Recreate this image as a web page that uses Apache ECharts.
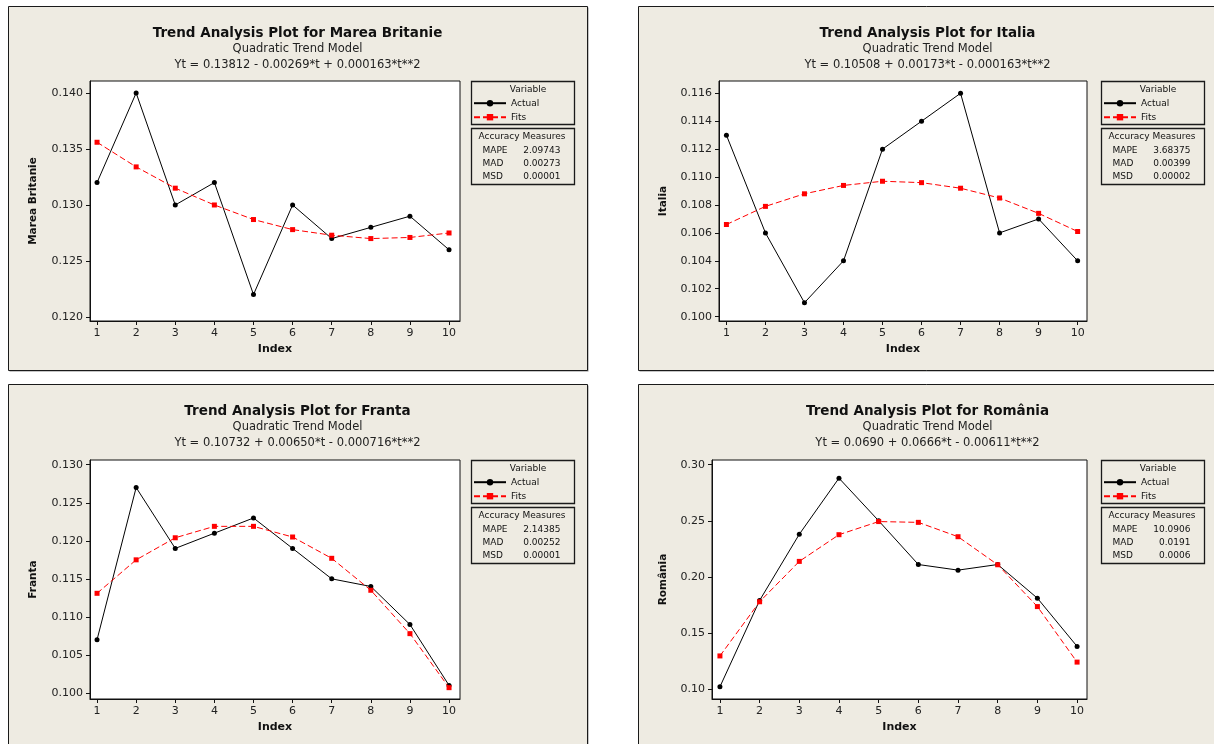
<!DOCTYPE html>
<html>
<head>
<meta charset="utf-8">
<script src="https://cdn.jsdelivr.net/npm/echarts@6/dist/echarts.min.js"></script>
<style>
html,body{margin:0;padding:0;background:#fff;}
#chart{width:1214px;height:744px;}
</style>
</head>
<body>
<div id="chart"></div>
<script>
// ---- data ----
const index = [1, 2, 3, 4, 5, 6, 7, 8, 9, 10];
const xTicks = [1, 2, 3, 4, 5, 6, 7, 8, 9, 10];

const ukActual = [0.132, 0.140, 0.130, 0.132, 0.122, 0.130, 0.127, 0.128, 0.129, 0.126];
const ukFits   = [0.1356, 0.1334, 0.1315, 0.1300, 0.1287, 0.1278, 0.1273, 0.1270, 0.1271, 0.1275];
const itActual = [0.113, 0.106, 0.101, 0.104, 0.112, 0.114, 0.116, 0.106, 0.107, 0.104];
const itFits   = [0.1066, 0.1079, 0.1088, 0.1094, 0.1097, 0.1096, 0.1092, 0.1085, 0.1074, 0.1061];
const frActual = [0.107, 0.127, 0.119, 0.121, 0.123, 0.119, 0.115, 0.114, 0.109, 0.101];
const frFits   = [0.1131, 0.1175, 0.1204, 0.1219, 0.1219, 0.1205, 0.1177, 0.1135, 0.1078, 0.1007];
const roActual = [0.102, 0.179, 0.238, 0.288, 0.250, 0.211, 0.206, 0.211, 0.181, 0.138];
const roFits   = [0.1295, 0.1778, 0.2138, 0.2376, 0.2493, 0.2486, 0.2358, 0.2108, 0.1735, 0.1240];

const ukTicks = [0.120, 0.125, 0.130, 0.135, 0.140];
const itTicks = [0.100, 0.102, 0.104, 0.106, 0.108, 0.110, 0.112, 0.114, 0.116];
const frTicks = [0.100, 0.105, 0.110, 0.115, 0.120, 0.125, 0.130];
const roTicks = [0.10, 0.15, 0.20, 0.25, 0.30];

const countries = ['Marea Britanie', 'Italia', 'Franta', 'România'];
const equations = [
  'Yt = 0.13812 - 0.00269*t + 0.000163*t**2',
  'Yt = 0.10508 + 0.00173*t - 0.000163*t**2',
  'Yt = 0.10732 + 0.00650*t - 0.000716*t**2',
  'Yt = 0.0690 + 0.0666*t - 0.00611*t**2'
];
const mapeVals = ['2.09743', '3.68375', '2.14385', '10.0906'];
const madVals  = ['0.00273', '0.00399', '0.00252', '0.0191'];
const msdVals  = ['0.00001', '0.00002', '0.00001', '0.0006'];

// ---- layout (styling only) ----
const FONT = 'DejaVu Sans';
const BEIGE = '#EEEBE2';
const actuals = [ukActual, itActual, frActual, roActual];
const fits = [ukFits, itFits, frFits, roFits];
const ticks = [ukTicks, itTicks, frTicks, roTicks];
const decimals = [3, 3, 3, 2];
const panels = [
  {px: 8,   py: 6,   w: 579, h: 364, grid: {left: 90,  top: 81,  width: 370, height: 240}, ymin: 0.11964, ymax: 0.14107, xmin: 0.82, xmax: 10.28, gap: 51},
  {px: 638, py: 6,   w: 620, h: 364, grid: {left: 719, top: 81,  width: 368, height: 240}, ymin: 0.09969, ymax: 0.11688, xmin: 0.81, xmax: 10.24, gap: 50},
  {px: 8,   py: 384, w: 579, h: 400, grid: {left: 90,  top: 460, width: 370, height: 239}, ymin: 0.09921, ymax: 0.13062, xmin: 0.82, xmax: 10.28, gap: 51},
  {px: 638, py: 384, w: 620, h: 400, grid: {left: 712, top: 460, width: 375, height: 239}, ymin: 0.0911,  ymax: 0.3042,  xmin: 0.80, xmax: 10.25, gap: 43}
];

const grids = [], xAxes = [], yAxes = [], series = [], titles = [], legends = [], graphics = [];

panels.forEach((p, k) => {
  grids.push(Object.assign({show: true, backgroundColor: '#fff', borderColor: '#111', borderWidth: 1, containLabel: false}, p.grid));
  xAxes.push({
    type: 'value', gridIndex: k, min: p.xmin, max: p.xmax,
    name: 'Index', nameLocation: 'middle', nameGap: 23,
    nameTextStyle: {fontFamily: FONT, fontWeight: 'bold', fontSize: 11, color: '#111'},
    axisLine: {show: true, onZero: false, lineStyle: {color: '#111', width: 1}},
    axisTick: {show: true, length: 4, customValues: xTicks, lineStyle: {color: '#111'}},
    axisLabel: {customValues: xTicks, margin: 7, fontFamily: FONT, fontSize: 11, color: '#222'},
    splitLine: {show: false}
  });
  yAxes.push({
    type: 'value', gridIndex: k, min: p.ymin, max: p.ymax,
    name: countries[k], nameLocation: 'middle', nameGap: p.gap,
    nameTextStyle: {fontFamily: FONT, fontWeight: 'bold', fontSize: 10.5, color: '#111'},
    axisLine: {show: true, onZero: false, lineStyle: {color: '#111', width: 1}},
    axisTick: {show: true, length: 4, customValues: ticks[k], lineStyle: {color: '#111'}},
    axisLabel: {customValues: ticks[k], margin: 7, fontFamily: FONT, fontSize: 11, color: '#222',
      formatter: v => v.toFixed(decimals[k])},
    splitLine: {show: false}
  });
  series.push({
    name: 'Actual', type: 'line', xAxisIndex: k, yAxisIndex: k,
    data: index.map((t, i) => [t, actuals[k][i]]),
    symbol: 'circle', symbolSize: 5, color: '#000',
    lineStyle: {color: '#000', width: 1}, itemStyle: {color: '#000'}, z: 3
  });
  series.push({
    name: 'Fits', type: 'line', xAxisIndex: k, yAxisIndex: k,
    data: index.map((t, i) => [t, fits[k][i]]),
    symbol: 'rect', symbolSize: 5, color: '#f00',
    lineStyle: {color: '#f00', width: 1, type: [6, 3]}, itemStyle: {color: '#f00'}, z: 4
  });
  const cx = (k % 2 === 0) ? 297.5 : 927.5;
  titles.push({
    text: 'Trend Analysis Plot for ' + countries[k],
    subtext: 'Quadratic Trend Model\n' + equations[k],
    left: cx, top: p.py + 19, textAlign: 'center', itemGap: 0, padding: 0,
    textStyle: {fontFamily: FONT, fontWeight: 'bold', fontSize: 13.5, color: '#111', lineHeight: 16},
    subtextStyle: {fontFamily: FONT, fontSize: 11.5, color: '#222', lineHeight: 16}
  });
  const bx = p.px + 463, by = p.grid.top;
  legends.push({
    data: ['Actual', 'Fits'], orient: 'vertical', left: bx + 2, top: by + 17.7,
    itemWidth: 32, itemHeight: 8, itemGap: 5, padding: 0, selectedMode: false,
    textStyle: {fontFamily: FONT, fontSize: 9, color: '#111'}
  });
  // panel background with border and shadow
  graphics.push({type: 'rect', z: -100, shape: {x: p.px + 1.5, y: p.py + 1.5, width: p.w, height: p.h}, style: {fill: '#8c8c8c'}});
  graphics.push({type: 'rect', z: -99, shape: {x: p.px + 0.5, y: p.py + 0.5, width: p.w, height: p.h}, style: {fill: BEIGE, stroke: '#1a1a1a', lineWidth: 1}});
  // legend boxes
  graphics.push({type: 'rect', z: 1, shape: {x: bx + 0.5, y: by + 0.5, width: 103, height: 43}, style: {fill: BEIGE, stroke: '#1a1a1a', lineWidth: 1.3}});
  graphics.push({type: 'rect', z: 1, shape: {x: bx + 0.5, y: by + 47.5, width: 103, height: 56}, style: {fill: BEIGE, stroke: '#1a1a1a', lineWidth: 1.3}});
  const txt = (x, y, s, align) => ({type: 'text', z: 2, x: x, y: y,
    style: {text: s, fontFamily: FONT, fontSize: 9, fill: '#111', textAlign: align, textVerticalAlign: 'middle'}});
  graphics.push(txt(bx + 57, by + 9, 'Variable', 'center'));
  graphics.push(txt(bx + 51, by + 55.7, 'Accuracy Measures', 'center'));
  graphics.push(txt(bx + 11.5, by + 69.7, 'MAPE', 'left'));
  graphics.push(txt(bx + 11.5, by + 82.7, 'MAD', 'left'));
  graphics.push(txt(bx + 11.5, by + 95.7, 'MSD', 'left'));
  graphics.push(txt(bx + 89.5, by + 69.7, mapeVals[k], 'right'));
  graphics.push(txt(bx + 89.5, by + 82.7, madVals[k], 'right'));
  graphics.push(txt(bx + 89.5, by + 95.7, msdVals[k], 'right'));
});

const chart = echarts.init(document.getElementById('chart'), null, {renderer: 'canvas'});
chart.setOption({
  animation: false,
  backgroundColor: '#fff',
  textStyle: {fontFamily: FONT},
  title: titles,
  legend: legends,
  grid: grids,
  xAxis: xAxes,
  yAxis: yAxes,
  series: series,
  graphic: {elements: graphics}
});
</script>
</body>
</html>
